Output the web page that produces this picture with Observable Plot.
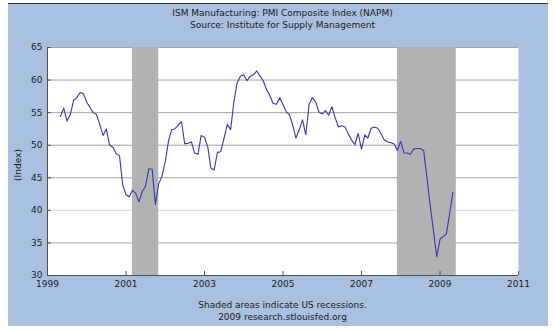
<!DOCTYPE html>
<html><head><meta charset="utf-8">
<script src="https://cdn.jsdelivr.net/npm/d3@7"></script>
<script src="https://cdn.jsdelivr.net/npm/@observablehq/plot@0.6"></script>
<style>
body{margin:0;background:#fff;}
#wrap{position:relative;width:555px;height:330px;overflow:hidden;font-family:"DejaVu Sans",Verdana,sans-serif;color:#1a1a1a;}
#panel{position:absolute;left:8px;top:3px;width:540px;height:322px;background:#a9c1e0;border-top:1px solid #333;}
.t{position:absolute;left:0;width:565px;text-align:center;font-size:9px;line-height:11px;white-space:nowrap;}
#chart{position:absolute;left:0;top:0;}
#ylab{position:absolute;left:18px;top:165px;transform:translate(-50%,-50%) rotate(-90deg);font-size:9px;white-space:nowrap;}
</style></head>
<body>
<div id="wrap">
  <div id="panel"></div>
  <div class="t" style="top:8px">ISM Manufacturing: PMI Composite Index (NAPM)</div>
  <div class="t" style="top:20px">Source: Institute for Supply Management</div>
  <div id="chart"></div>
  <div id="ylab">(Index)</div>
  <div class="t" style="top:300px">Shaded areas indicate US recessions.</div>
  <div class="t" style="top:312px">2009 research.stlouisfed.org</div>
</div>
<script>
// Monthly values, May 1999 – May 2009
const firstMonth = "1999-05-01";
const lastMonth = "2009-05-01";
const pmi = [
  54.4, 55.7, 53.7, 54.7, 56.9, 57.3, 58.1, 57.9,
  56.6, 55.8, 55.0, 54.7, 53.2, 51.5, 52.5, 50.0, 49.7, 48.7, 48.4, 43.9,
  42.4, 42.1, 43.1, 42.6, 41.3, 42.9, 43.7, 46.4, 46.3, 40.9, 44.1, 45.2,
  47.5, 50.7, 52.4, 52.5, 53.1, 53.6, 50.2, 50.3, 50.5, 48.8, 48.6, 51.5,
  51.2, 49.7, 46.5, 46.2, 48.9, 49.0, 51.0, 53.2, 52.4, 56.6, 59.6, 60.6,
  60.8, 59.9, 60.6, 60.8, 61.4, 60.6, 59.9, 58.5, 57.6, 56.4, 56.3, 57.3,
  56.2, 55.1, 54.7, 53.1, 51.1, 52.4, 53.9, 51.6, 56.3, 57.3, 56.6, 55.1,
  54.8, 55.3, 54.6, 55.9, 54.2, 52.8, 53.0, 52.8, 51.7, 50.8, 50.1, 51.8,
  49.4, 51.6, 51.1, 52.6, 52.8, 52.6, 51.8, 50.8, 50.5, 50.4, 50.2, 49.2,
  50.6, 48.8, 48.8, 48.6, 49.4, 49.5, 49.5, 49.2, 45.0, 40.8, 36.8, 32.9,
  35.6, 36.0, 36.4, 39.6, 42.8
];
const recessionStarts = ["2001-03-01", "2007-12-01"];
const recessionEnds = ["2001-11-01", "2009-06-01"];
const xTickLabels = ["1999", "2001", "2003", "2005", "2007", "2009", "2011"];
const yTicks = [30, 35, 40, 45, 50, 55, 60, 65];

const months = d3.utcMonth.range(new Date(firstMonth), d3.utcMonth.offset(new Date(lastMonth), 1));
const data = months.map((d, i) => ({date: d, value: pmi[i]}));
const recessions = recessionStarts.map((s, i) => ({start: new Date(s), end: new Date(recessionEnds[i])}));
const xTicks = xTickLabels.map(y => new Date(y + "-01-01"));

const chart = Plot.plot({
  width: 555,
  height: 330,
  marginLeft: 47,
  marginRight: 37,
  marginTop: 47,
  marginBottom: 55,
  style: {background: "transparent", fontFamily: "DejaVu Sans, Verdana, sans-serif", fontSize: "9px", color: "#1a1a1a", overflow: "visible"},
  x: {type: "utc", domain: [xTicks[0], xTicks[xTicks.length - 1]], label: null},
  y: {domain: [30, 65], label: null},
  marks: [
    Plot.frame({fill: "white", stroke: null}),
    Plot.ruleY(yTicks.filter(d => d !== 30 && d !== 40), {stroke: "#a4a4a4", strokeWidth: 1}),
    Plot.ruleY([40], {stroke: "#d6d6d6", strokeWidth: 1}),
    Plot.rect(recessions, {x1: "start", x2: "end", fill: "#b2b2b2"}),
    Plot.line(data, {x: "date", y: "value", stroke: "#3636b0", strokeWidth: 1.1}),
    Plot.ruleX([xTicks[0]], {stroke: "#505050"}),
    Plot.ruleY([30], {stroke: "#505050"}),
    Plot.axisY({ticks: yTicks, tickSize: 0, tickPadding: 5, tickFormat: d => d}),
    Plot.axisY({ticks: yTicks, tickSize: -4, text: null, stroke: "#505050"}),
    Plot.axisX({ticks: xTicks, tickSize: 0, tickPadding: 5, tickFormat: d3.utcFormat("%Y")}),
    Plot.axisX({ticks: xTicks, tickSize: -4, text: null, stroke: "#505050"})
  ]
});
document.getElementById("chart").appendChild(chart);
</script>
</body></html>
